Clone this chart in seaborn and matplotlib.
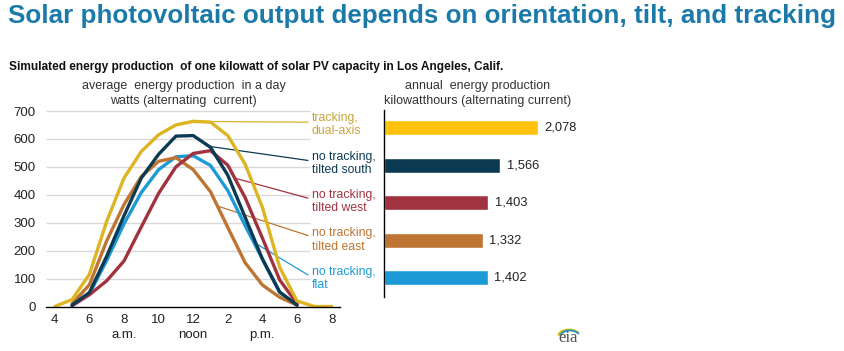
import numpy as np
import pandas as pd
import matplotlib
matplotlib.use("Agg")
import matplotlib.pyplot as plt
import seaborn as sns

# ---------------- data ----------------
hours = list(range(4, 21))
hour_tick_values = [4, 6, 8, 10, 12, 14, 16, 18, 20]
hour_tick_labels = ["4", "6", "8", "10", "12", "2", "4", "6", "8"]
period_labels = {8: "a.m.", 12: "noon", 16: "p.m."}

nan = np.nan
dual_axis = [0, 25, 115, 305, 460, 555, 615, 650, 663, 660, 612, 510, 355, 140, 20, 0, 0]
tilted_south = [nan, 5, 50, 180, 325, 460, 545, 610, 612, 570, 470, 320, 170, 52, 5, nan, nan]
tilted_west = [nan, 3, 42, 92, 163, 285, 405, 500, 548, 558, 506, 390, 245, 95, 10, nan, nan]
tilted_east = [nan, 10, 78, 235, 365, 465, 520, 533, 490, 411, 283, 157, 77, 33, 5, nan, nan]
flat = [nan, 3, 45, 165, 296, 408, 490, 536, 540, 505, 415, 290, 170, 50, 5, nan, nan]

series_keys = ["dual", "south", "west", "east", "flat"]
series_lines = [("tracking,", "dual-axis"), ("no tracking,", "tilted south"),
                ("no tracking,", "tilted west"), ("no tracking,", "tilted east"),
                ("no tracking,", "flat")]
annual_kwh = [2078, 1566, 1403, 1332, 1402]

line_colors = ["#DDB422", "#0B3A52", "#A13340", "#BE7432", "#1C9AD6"]
bar_colors = ["#FFC20E", "#0B3A52", "#A13340", "#BE7432", "#1C9AD6"]
label_colors = ["#C9A43A", "#0B3A52", "#A13340", "#BE7432", "#1C9AD6"]

# leader-line start hour on each curve
leader_start_hour = [12.1, 12.92, 14.4, 13.4, 15.5]
leader_end_values = [660, 523, 388, 254, 113]

values_by_key = dict(zip(series_keys, [dual_axis, tilted_south, tilted_west, tilted_east, flat]))

df = pd.DataFrame({
    "hour": np.tile(hours, len(series_keys)),
    "watts": np.concatenate([values_by_key[k] for k in series_keys]),
    "series": np.repeat(series_keys, len(hours)),
})
bars_df = pd.DataFrame({"series": series_keys, "kwh": annual_kwh})

# ---------------- figure ----------------
sns.set_theme(style="white")
plt.rcParams["font.family"] = ["Liberation Sans", "DejaVu Sans"]

W, H = 845, 351
fig = plt.figure(figsize=(W / 100, H / 100), dpi=100)


def fx(px):
    return px / W


def fy(py):
    return 1 - py / H


# title texts
fig.text(fx(8), fy(16), "Solar photovoltaic output depends on orientation, tilt, and tracking",
         family=["Liberation Sans Narrow", "Liberation Sans"], fontweight="bold",
         fontsize=18.7, color="#1C7AAB", va="center", ha="left")
fig.text(fx(9), fy(67), "Simulated energy production  of one kilowatt of solar PV capacity in Los Angeles, Calif.",
         fontweight="bold", fontsize=8.55, color="#111111", va="center", ha="left")
fig.text(fx(183.5), fy(86), "average  energy production  in a day", fontsize=9,
         color="#333333", ha="center", va="center")
fig.text(fx(183.5), fy(101), "watts (alternating  current)", fontsize=9,
         color="#333333", ha="center", va="center")
fig.text(fx(478), fy(86), "annual  energy production", fontsize=9,
         color="#333333", ha="center", va="center")
fig.text(fx(478), fy(101), "kilowatthours (alternating current)", fontsize=9,
         color="#333333", ha="center", va="center")

# ---------------- line chart ----------------
x0_px = 46.15
unit_px = 17.3
ax = fig.add_axes([fx(x0_px), fy(306.5), (17 * unit_px) / W, (306.5 - 111) / H])
palette = dict(zip(series_keys, line_colors))
sns.lineplot(data=df, x="hour", y="watts", hue="series",
             hue_order=["flat", "east", "west", "south", "dual"],
             palette=palette, linewidth=2.4, legend=False, ax=ax)
ax.set_xlim(3.5, 20.5)
ax.set_ylim(0, 700)
ax.set_xlabel("")
ax.set_ylabel("")

grid_end = 4 + (310 - (x0_px + 0.5 * unit_px)) / unit_px
ax.hlines(range(100, 701, 100), 3.5, grid_end, color="#D9D9D9", linewidth=1,
          zorder=0, clip_on=False)

for s in ["left", "top", "right"]:
    ax.spines[s].set_visible(False)
ax.spines["bottom"].set_color("black")
ax.spines["bottom"].set_linewidth(1)
ax.spines["bottom"].set_zorder(5)

ax.set_yticks(range(0, 701, 100))
ax.set_yticklabels([str(v) for v in range(0, 701, 100)])
ax.tick_params(axis="y", length=0, pad=7.5, labelsize=9.5, labelcolor="#222222")

ax.set_xticks(np.arange(3.5, 20.6, 1.0))
ax.set_xticklabels([])
ax.tick_params(axis="x", which="major", length=3.2, width=1, color="black", direction="out")
ax.set_xticks(hour_tick_values, minor=True)
ax.set_xticklabels(hour_tick_labels, minor=True)
ax.tick_params(axis="x", which="minor", length=0, pad=5.5, labelsize=9.5, labelcolor="#222222")

for h, lab in period_labels.items():
    ax.annotate(lab, xy=(h, 0), xycoords=("data", "axes fraction"),
                xytext=(0, -16.5), textcoords="offset points",
                ha="center", va="top", fontsize=9.5, color="#222222")

# leader lines and labels
end_hour = 4 + (308 - (x0_px + 0.5 * unit_px)) / unit_px
label_line1_y = [117.7, 156.7, 195.0, 233.3, 271.7]
for i, key in enumerate(series_keys):
    vals = np.array(values_by_key[key], dtype=float)
    ok = ~np.isnan(vals)
    y_start = np.interp(leader_start_hour[i], np.array(hours)[ok], vals[ok])
    ax.plot([leader_start_hour[i], end_hour], [y_start, leader_end_values[i]],
            color=line_colors[i], linewidth=0.9, zorder=1, clip_on=False)
    fig.text(fx(312), fy(label_line1_y[i]), series_lines[i][0], fontsize=8.8,
             color=label_colors[i], ha="left", va="center")
    fig.text(fx(312), fy(label_line1_y[i] + 13.2), series_lines[i][1], fontsize=8.8,
             color=label_colors[i], ha="left", va="center")

# ---------------- bar chart ----------------
bax = fig.add_axes([fx(384.3), fy(296.7), (2400 * 0.0738) / W, (296.7 - 110) / H])
sns.barplot(data=bars_df, x="kwh", y="series", hue="series", order=series_keys,
            hue_order=series_keys, palette=dict(zip(series_keys, bar_colors)),
            orient="h", width=0.4, legend=False, saturation=1, ax=bax)
bax.set_xlim(0, 2400)
bax.set_ylim(4.51, -0.47)
bax.set_xlabel("")
bax.set_ylabel("")
bax.set_xticks([])
bax.set_yticks([])
for s in ["top", "right", "bottom"]:
    bax.spines[s].set_visible(False)
bax.spines["left"].set_color("black")
bax.spines["left"].set_linewidth(1)
for i, v in enumerate(annual_kwh):
    bax.annotate(f"{v:,}", xy=(v, i), xytext=(4.8, 0), textcoords="offset points",
                 ha="left", va="center", fontsize=9.3, color="#222222")

# ---------------- eia logo ----------------
fig.text(fx(578), fy(342), "eia", family=["Liberation Serif", "DejaVu Serif"],
         fontsize=12, color="#555555", ha="right", va="baseline")
lax = fig.add_axes([fx(556), fy(338), 24 / W, 18 / H])
lax.set_xlim(0, 24)
lax.set_ylim(0, 18)
lax.axis("off")
t = np.linspace(0.15 * np.pi, 0.95 * np.pi, 40)
for r, c, cx in [(11, "#F2C318", 13), (10, "#7DB543", 13.5), (9, "#2A8FCB", 14)]:
    lax.plot(cx + r * np.cos(t), 2 + r * np.sin(t) * 0.6, color=c, linewidth=1.2)

fig.savefig("out.png", dpi=100)
